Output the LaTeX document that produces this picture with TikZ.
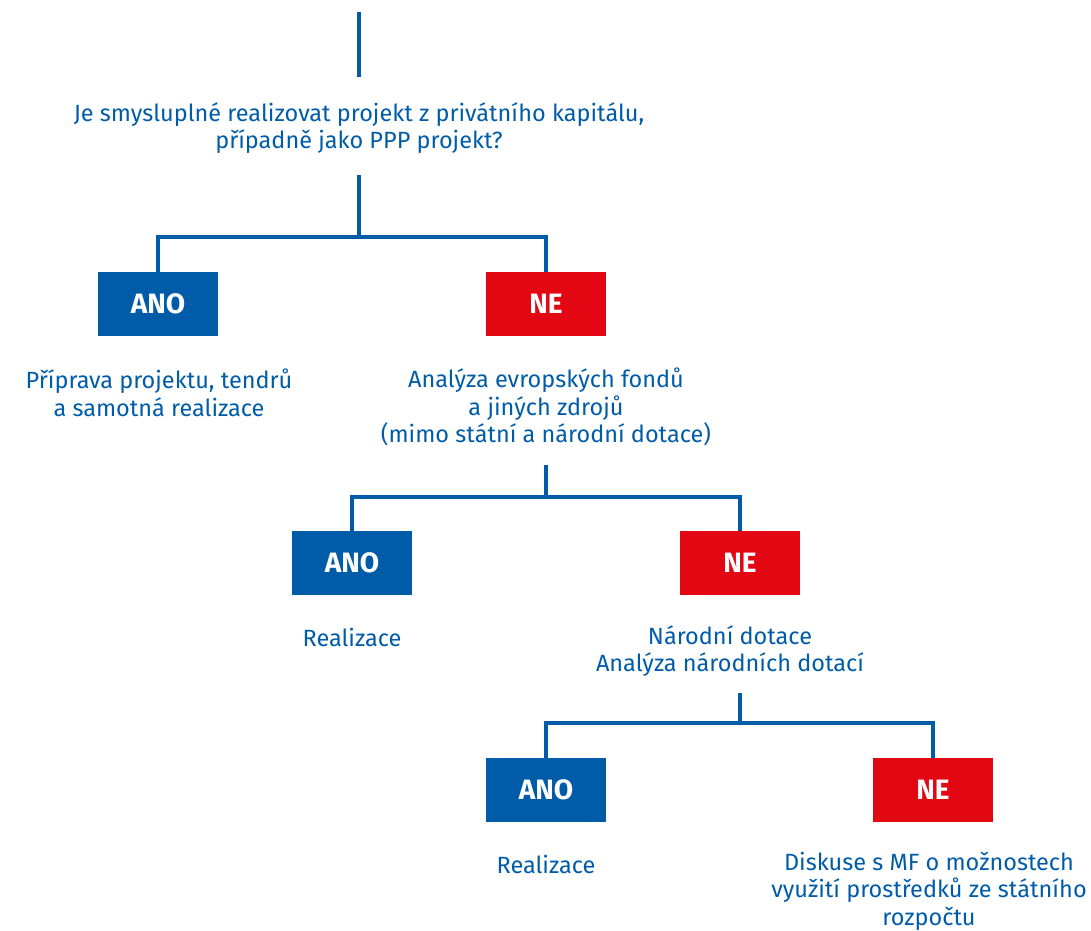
\documentclass[tikz,border=0pt]{standalone}
\usepackage{fontspec}
\setmainfont{Fira Sans}
\definecolor{mblue}{HTML}{005CA9}
\definecolor{mred}{HTML}{E30613}
\begin{document}
\begin{tikzpicture}[x=1pt,y=-1pt,
  conn/.style={draw=mblue,line width=3.2pt},
  ansbox/.style={minimum width=120pt,minimum height=64pt,inner sep=0pt,text=white,font=\fontsize{28}{32}\selectfont\bfseries},
  anobox/.style={ansbox,fill=mblue},
  nebox/.style={ansbox,fill=mred},
  lbl/.style={align=center,text=mblue,inner sep=0pt,font=\fontsize{23.5}{27.5}\selectfont}]
\useasboundingbox (0,0) rectangle (1091,930);
% nodes
\node[lbl] (q) at (359,128) {Je smysluplné realizovat projekt z privátního kapitálu,\\případně jako PPP projekt?};
\node[anobox] (ano1) at (158,304) {ANO};
\node[nebox] (ne1) at (546,304) {NE};
\node[lbl] (t1) at (159,393) {Příprava projektu, tendrů\\a samotná realizace};
\node[lbl] (t2) at (546,407) {Analýza evropských fondů\\a jiných zdrojů\\(mimo státní a národní dotace)};
\node[anobox] (ano2) at (352,563) {ANO};
\node[nebox] (ne2) at (740,563) {NE};
\node[lbl] (t3) at (352,637) {Realizace};
\node[lbl] (t4) at (730,651) {Národní dotace\\Analýza národních dotací};
\node[anobox] (ano3) at (546,790) {ANO};
\node[nebox] (ne3) at (933,790) {NE};
\node[lbl] (t5) at (546,864) {Realizace};
\node[lbl] (t6) at (929,891) {Diskuse s MF o možnostech\\využití prostředků ze státního\\rozpočtu};
% connector ends
\coordinate (top) at (359,12);
\coordinate (qin) at (359,77);
\coordinate (s1) at (359,175);
\coordinate (j1) at (359,237);
\coordinate (s2) at (546,465);
\coordinate (j2) at (546,497);
\coordinate (s3) at (740,693);
\coordinate (j3) at (740,723);
% connectors
\draw[conn] (top) -- (qin);
\draw[conn] (s1) -- (j1) -| (ano1.north);
\draw[conn] (j1) -| (ne1.north);
\draw[conn] (s2) -- (j2) -| (ano2.north);
\draw[conn] (j2) -| (ne2.north);
\draw[conn] (s3) -- (j3) -| (ano3.north);
\draw[conn] (j3) -| (ne3.north);
\end{tikzpicture}
\end{document}
